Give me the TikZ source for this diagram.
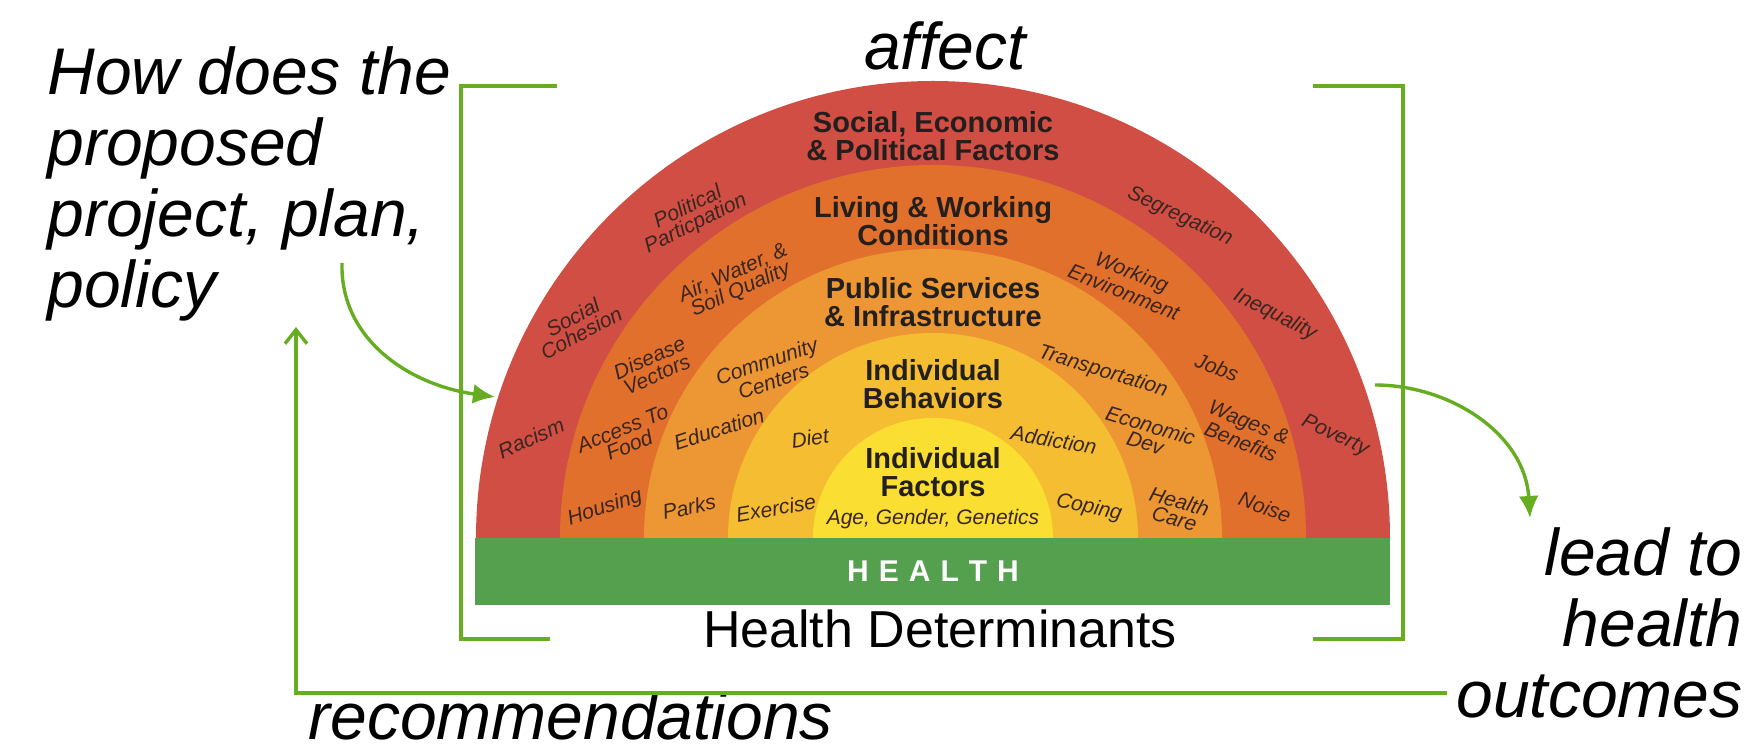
\documentclass[tikz,border=0pt]{standalone}
\usepackage{fontspec}
\setmainfont{Liberation Sans}
\usetikzlibrary{arrows.meta}
\definecolor{ringA}{HTML}{D04E44}
\definecolor{ringB}{HTML}{E2702D}
\definecolor{ringC}{HTML}{EC9734}
\definecolor{ringD}{HTML}{F5BE32}
\definecolor{ringE}{HTML}{FADE32}
\definecolor{hgreen}{HTML}{54A04E}
\definecolor{brgreen}{HTML}{66AD22}
\definecolor{labtxt}{HTML}{3A2620}
\definecolor{titletxt}{HTML}{231F1E}
\tikzset{
  ringlabel/.style={font=\fontsize{10.5}{9}\selectfont\itshape, text=labtxt, align=center, inner sep=0pt},
  titlelabel/.style={font=\fontsize{14.5}{14}\selectfont\bfseries, text=titletxt, align=center, inner sep=0pt},
  bigitalic/.style={font=\fontsize{33}{35.5}\selectfont\itshape, inner sep=0pt},
  bracketline/.style={draw=brgreen, line width=2pt},
  flowarrow/.style={draw=brgreen, line width=1.7pt, -{Latex[length=11pt,width=10pt]}},
  backarrow/.style={draw=brgreen, line width=1.7pt, -{Straight Barb[length=7pt,width=11pt,line width=1.7pt]}},
}
\begin{document}
\begin{tikzpicture}[x=0.5pt,y=0.5pt]
\useasboundingbox (0,0) rectangle (1758,754);
\fill[white] (0,0) rectangle (1758,754);

% rings
\foreach \r/\c in {457/ringA,373/ringB,289/ringC,205/ringD,120/ringE}
  \fill[\c] ({933-\r},216) arc[start angle=180,end angle=0,radius=\r] -- cycle;
% health band
\fill[hgreen] (475,149) rectangle (1390,216);
\node[font=\fontsize{15}{15}\selectfont\bfseries, text=white, inner sep=0pt] (health) at (933,183)
  {H\hspace{5pt}E\hspace{5pt}A\hspace{5pt}L\hspace{5pt}T\hspace{5pt}H};

% ring titles
\node[titlelabel] (sep) at (933,618) {Social, Economic\\\& Political Factors};
\node[titlelabel] (lwc) at (933,533) {Living \& Working\\Conditions};
\node[titlelabel] (psi) at (933,452) {Public Services\\\& Infrastructure};
\node[titlelabel] (ib) at (933,370) {Individual\\Behaviors};
\node[titlelabel] (ifa) at (933,282) {Individual\\Factors};
\node[ringlabel] (agg) at (933,235) {Age, Gender, Genetics};

% red ring labels
\node[ringlabel, rotate=28] (soc) at (577,429) {Social\\Cohesion};
\node[ringlabel, rotate=26] (pol) at (692,538) {Political\\Particpation};
\node[ringlabel, rotate=24] (rac) at (531,316) {Racism};
\node[ringlabel, rotate=-25] (seg) at (1180,537) {Segregation};
\node[ringlabel, rotate=-27] (ineq) at (1275,439) {Inequality};
\node[ringlabel, rotate=-25] (pov) at (1335,318) {Poverty};
% living ring labels
\node[ringlabel, rotate=24] (air) at (737,472) {Air, Water, \&\\Soil Quality};
\node[ringlabel, rotate=24] (dis) at (653,388) {Disease\\Vectors};
\node[ringlabel, rotate=22] (acc) at (626,317) {Access To\\Food};
\node[ringlabel, rotate=18] (hou) at (605,246) {Housing};
\node[ringlabel, rotate=-22] (wor) at (1128,472) {Working\\Environment};
\node[ringlabel, rotate=-20] (job) at (1217,387) {Jobs};
\node[ringlabel, rotate=-22] (wag) at (1245,322) {Wages \&\\Benefits};
\node[ringlabel, rotate=-20] (noi) at (1265,247) {Noise};
% public services labels
\node[ringlabel, rotate=19] (com) at (770,383) {Community\\Centers};
\node[ringlabel, rotate=18] (edu) at (719,325) {Education};
\node[ringlabel, rotate=12] (par) at (689,247) {Parks};
\node[ringlabel, rotate=-17] (tra) at (1103,382) {Transportation};
\node[ringlabel, rotate=-17] (eco) at (1148,320) {Economic\\Dev};
\node[ringlabel, rotate=-16] (hca) at (1177,244) {Health\\Care};
% behaviour labels
\node[ringlabel, rotate=8] (die) at (810,316) {Diet};
\node[ringlabel, rotate=10] (exe) at (776,246) {Exercise};
\node[ringlabel, rotate=-10] (add) at (1054,314) {Addiction};
\node[ringlabel, rotate=-12] (cop) at (1089,246) {Coping};

% caption
\node[font=\fontsize{26}{26}\selectfont, inner sep=0pt, anchor=base] (hd) at (940,106) {Health Determinants};

% outer texts (base anchor = last line)
\node[bigitalic, align=left, anchor=base west] (q) at (47,446) {How does the\\proposed\\project, plan,\\policy};
\node[bigitalic, anchor=base] (affect) at (945,684) {affect};
\node[bigitalic, align=right, anchor=base east] (lead) at (1743,36) {lead to\\health\\outcomes};
\node[bigitalic, anchor=base west] (rec) at (308,14) {recommendations};

% brackets
\draw[bracketline] (557,668) -- (461,668) -- (461,115) -- (550,115);
\draw[bracketline] (1313,668) -- (1403,668) -- (1403,115) -- (1313,115);

% arrows
\coordinate (a1s) at (342,491);
\coordinate (a1e) at (495,357);
\draw[flowarrow] (a1s) .. controls (340,414) and (410,369) .. (a1e);
\coordinate (a3s) at (1375,369);
\coordinate (a3e) at (1530,236);
\draw[flowarrow] (a3s) .. controls (1450,369) and (1525,320) .. (a3e);
\coordinate (fbs) at (1447,61);
\coordinate (fbc) at (296,61);
\coordinate (fbe) at (296,427);
\draw[backarrow] (fbs) -- (fbc) -- (fbe);
\end{tikzpicture}
\end{document}
